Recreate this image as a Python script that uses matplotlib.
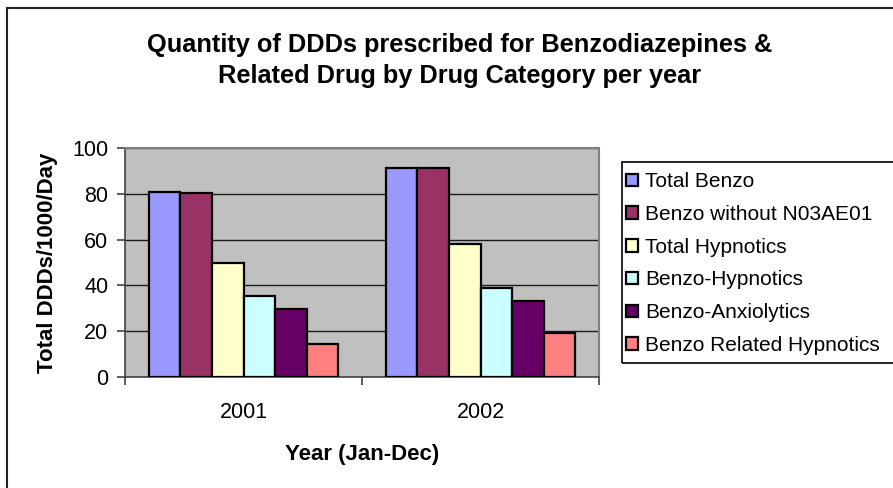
import matplotlib
matplotlib.use("Agg")
import matplotlib.pyplot as plt
from matplotlib.patches import Rectangle
import numpy as np

plt.rcParams['font.family'] = ['Liberation Sans', 'DejaVu Sans']

years = ["2001", "2002"]
series = ["Total Benzo", "Benzo without N03AE01", "Total Hypnotics",
          "Benzo-Hypnotics", "Benzo-Anxiolytics", "Benzo Related Hypnotics"]
total_benzo = [80.6, 91.4]
benzo_without = [80.3, 91.1]
total_hypnotics = [49.9, 58.0]
benzo_hypnotics = [35.5, 39.0]
benzo_anxiolytics = [29.8, 33.0]
benzo_related = [14.6, 19.0]
values = [total_benzo, benzo_without, total_hypnotics,
          benzo_hypnotics, benzo_anxiolytics, benzo_related]
colors = ["#9999FF", "#993366", "#FFFFCC", "#CCFFFF", "#660066", "#FF8080"]
yticks = [0, 20, 40, 60, 80, 100]

W, H = 893, 488
fig = plt.figure(figsize=(W / 100, H / 100), dpi=100)

def fx(px):
    return px / W

def fy(py):
    return 1 - py / H

# outer chart border (extends beyond right/bottom of image)
fig.patches.append(Rectangle((fx(7), fy(900)), fx(1000), fy(8) - fy(900),
                             transform=fig.transFigure, fill=False,
                             edgecolor="#222222", linewidth=1.5, clip_on=False))

ax = fig.add_axes([fx(125), fy(377), fx(599) - fx(125), fy(148) - fy(377)])
ax.set_facecolor("#C0C0C0")

n = len(series)
bw = 1.0 / (n + 1.5)
x = np.arange(len(years))
for i, (name, vals, c) in enumerate(zip(series, values, colors)):
    offs = (i - (n - 1) / 2) * bw
    ax.bar(x + offs, vals, width=bw, color=c, edgecolor="black",
           linewidth=1.6, label=name, zorder=3)

ax.set_xlim(-0.5, len(years) - 0.5)
ax.set_ylim(0, 100)
ax.set_yticks(yticks)
ax.yaxis.grid(True, color="#1a1a1a", linewidth=1.0, zorder=1)
ax.set_axisbelow(True)

ax.set_xticks(x)
ax.set_xticklabels(years, fontsize=15.5)
ax.tick_params(axis="x", length=0, pad=18)
ax.set_xticks([-0.5, 0.5, 1.5], minor=True)
ax.tick_params(axis="x", which="minor", length=6, width=1.2, color="#444444")
ax.tick_params(axis="y", labelsize=15.5, length=6, width=1.2, color="#444444", pad=6)

for s in ["top", "right"]:
    ax.spines[s].set_color("#808080")
    ax.spines[s].set_linewidth(1.5)
for s in ["left", "bottom"]:
    ax.spines[s].set_color("#444444")
    ax.spines[s].set_linewidth(1.2)

ax.set_ylabel("Total DDDs/1000/Day", fontsize=16, fontweight="bold", labelpad=10)
ax.set_xlabel("Year (Jan-Dec)", fontsize=16, fontweight="bold", labelpad=15)

fig.text(fx(460), fy(45), "Quantity of DDDs prescribed for Benzodiazepines &",
         ha="center", va="center", fontsize=18.3, fontweight="bold")
fig.text(fx(460), fy(76), "Related Drug by Drug Category per year",
         ha="center", va="center", fontsize=18.3, fontweight="bold")

# legend box (extends beyond right edge)
fig.patches.append(Rectangle((fx(622), fy(363)), fx(1000), fy(162) - fy(363),
                             transform=fig.transFigure, fill=False,
                             edgecolor="black", linewidth=1.2, clip_on=False))
leg = ax.legend(loc="upper left", bbox_to_anchor=(fx(622), fy(168)),
                bbox_transform=fig.transFigure, frameon=False, fontsize=15,
                handlelength=0.55, handleheight=0.55, handletextpad=0.35,
                labelspacing=0.66, borderpad=0.2, borderaxespad=0)

fig.savefig("out.png", dpi=100)
